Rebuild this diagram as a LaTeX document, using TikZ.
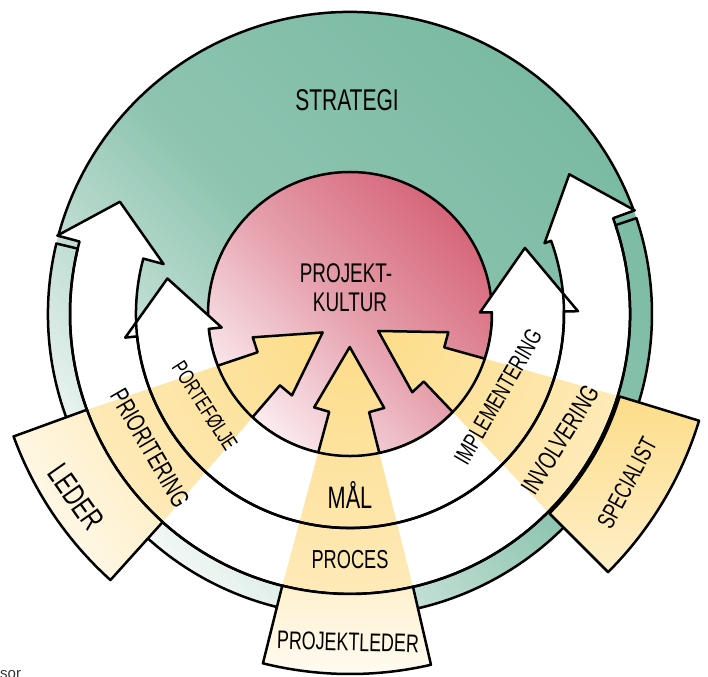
\documentclass[tikz,border=0pt]{standalone}
\usepackage{fontspec}
\newfontfamily\hand[FakeStretch=0.7]{Liberation Sans}
\newfontfamily\plainsans{Liberation Sans}
\newcommand\handfs[1]{\hand\fontsize{#1}{#1}\selectfont}
\definecolor{tealc}{RGB}{122,186,163}
\definecolor{tealpale}{RGB}{242,248,245}
\definecolor{pinkc}{RGB}{214,102,122}
\definecolor{pinkpale}{RGB}{251,236,240}
\definecolor{yelc}{RGB}{253,219,132}
\begin{document}
\begin{tikzpicture}[x=1pt,y=1pt,line join=round,
  outl/.style={draw=black,line width=2.5pt},
  lbl/.style={inner sep=0pt,text=black}]
\useasboundingbox (-350,-362) rectangle (358,314);
% paths
\def\outerband{(165:303) -- (154:256) -- (165:193) -- (165:214)
  arc[start angle=165,end angle=380,radius=214] -- (20:207) -- (32.5:260)
  -- (20:303) -- (20:280) arc[start angle=380,end angle=165,radius=280] -- cycle}
\def\innerband{(186:226) -- (169:186) -- (186:129) -- (186:142)
  arc[start angle=186,end angle=360.7,radius=142] -- (0.7:130) -- (20.7:187)
  -- (0.7:228) -- (0.7:214) arc[start angle=360.7,end angle=186,radius=214] -- cycle}
\newcommand\yw[3]{(#2:280) -- ({#1-11.5}:100) -- ({#1-20.5}:100) -- (#1:33)
  -- ({#1+20.5}:100) -- ({#1+11.5}:100) -- (#3:280)
  arc[start angle=#3,end angle=#2,radius=280] -- cycle}
\newcommand\ywline[3]{(#2:280) -- ({#1-11.5}:100) -- ({#1-20.5}:100) -- (#1:33)
  -- ({#1+20.5}:100) -- ({#1+11.5}:100) -- (#3:280)}
\newcommand\boxp[4]{(#1:#3) -- (#1:#4) arc[start angle=#1,end angle=#2,radius=#4]
  -- (#2:#3) arc[start angle=#2,end angle=#1,radius=#3] -- cycle}
% green disk (strategy)
\shade[bottom color=tealpale, top color=tealc, middle color=tealc!85!white, shading angle=-45]
  (0,0) circle[radius=302];
% pink disk (culture)
\shade[bottom color=pinkpale, top color=pinkc, middle color=pinkc!62!white, shading angle=-45]
  (0,0) circle[radius=142];
\draw[outl] (0,0) circle[radius=142];
% white arrow bands
\fill[white] \outerband;
\fill[white] \innerband;
% yellow wedges
\foreach \b/\p/\q in {214/200/228, 269.5/256/283, 329/315/343}{
  \begin{scope}
    \clip \yw{\b}{\p}{\q};
    \shade[inner color=yelc, outer color=yelc!55!white] (0,0) circle[radius=300];
  \end{scope}
  \begin{scope}
    \clip (0,0) circle[radius=142];
    \draw[outl] \ywline{\b}{\p}{\q};
  \end{scope}
}
% outlines of bands, ring and circle
\draw[outl] \outerband;
\draw[outl] \innerband;
\draw[outl] (166.5:280) -- (166.5:302) arc[start angle=166.5,end angle=378.5,radius=302]
  -- (378.5:280) arc[start angle=378.5,end angle=166.5,radius=280] -- cycle;
\draw[outl] (20:302) arc[start angle=20,end angle=165,radius=302];
% role boxes
\shadedraw[outl, top color=yelc!50!white, bottom color=yelc!12!white, shading angle=-56]
  \boxp{200}{228}{280}{358};
\shadedraw[outl, top color=yelc!40!white, bottom color=yelc!10!white, shading angle=0]
  \boxp{256}{283}{280}{360};
\shadedraw[outl, top color=yelc!95!white, bottom color=yelc!45!white, shading angle=0]
  \boxp{315}{343}{282}{365};
% labels
\node[lbl,font=\handfs{30}] (strat) at (-3,214) {STRATEGI};
\node[lbl,font=\handfs{27}] (kult1) at (-4,41) {PROJEKT-};
\node[lbl,font=\handfs{27}] (kult2) at (0,12) {KULTUR};
\node[lbl,font=\handfs{31},anchor=base] (maal) at (0,-194) {MÅL};
\node[lbl,font=\handfs{26}] (proces) at (0,-246) {PROCES};
\node[lbl,font=\handfs{25.5},rotate=-1.5] (pleder) at (-2,-328) {PROJEKTLEDER};
\node[lbl,font=\handfs{22},rotate=-57] (portef) at (-145,-92) {PORTEFØLJE};
\node[lbl,font=\handfs{26},rotate=-60] (prior) at (-200,-134) {PRIORITERING};
\node[lbl,font=\handfs{31},rotate=-55] (leder) at (-274,-183) {LEDER};
\node[lbl,font=\handfs{24},rotate=60] (impl) at (148,-83) {IMPLEMENTERING};
\node[lbl,font=\handfs{26},rotate=58] (invol) at (210,-126) {INVOLVERING};
\node[lbl,font=\handfs{24.5},rotate=62] (spec) at (277,-169) {SPECIALIST};
\node[lbl,font=\plainsans\fontsize{15}{15}\selectfont,anchor=base west,text=black!80] (sor) at (-350,-364) {sor};
\end{tikzpicture}
\end{document}
